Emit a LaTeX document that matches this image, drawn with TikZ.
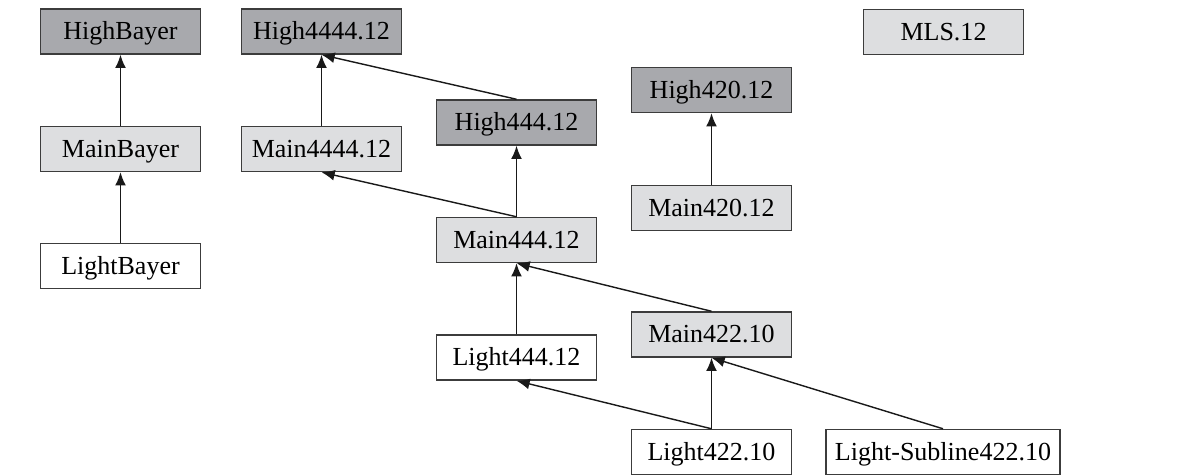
\documentclass[tikz,border=0pt]{standalone}
\usepackage{fontspec}
\setmainfont{Liberation Serif}
\usepackage{tikz}
\usepackage{xcolor}
\usetikzlibrary{arrows.meta, positioning}
\definecolor{cHigh}{RGB}{168,169,173}
\definecolor{cMain}{RGB}{221,222,224}
\definecolor{cEdge}{RGB}{60,60,60}
\tikzset{
	profile/.style={rectangle, draw=cEdge, line width=0.9pt, minimum width=4cm, minimum height=1.13cm, text centered, inner sep=2pt, text height=1.2em, text depth=0.02em, font=\fontsize{18.5}{22}\selectfont, fill=white},
	highbox/.style ={profile, fill=cHigh},
	mainbox/.style ={profile, fill=cMain},
	lightbox/.style={profile, fill=white},
	uparrow/.style ={-{Latex[length=3.3mm, width=2.7mm]}, line width=1pt, draw=black!90},
}

\begin{document}
\begin{tikzpicture}[x=0.025cm, y=-0.025cm]
	\useasboundingbox (0,0) rectangle (1184,474);
	% Bayer profiles
	\node[highbox]  (hbayer) at (120.5,31.5) {HighBayer};
	\node[mainbox]  (mbayer) at (120.5,149)  {MainBayer};
	\node[lightbox] (lbayer) at (120.5,266)  {LightBayer};
	% 4444 / 444 profiles
	\node[highbox]  (h4444) at (321.5,31.5)  {High4444.12};
	\node[mainbox]  (m4444) at (321.5,149)   {Main4444.12};
	\node[highbox]  (h444)  at (516.5,122.5) {High444.12};
	\node[mainbox]  (m444)  at (516.5,240)   {Main444.12};
	\node[lightbox] (l444)  at (516.5,357.5) {Light444.12};
	% 420 / 422 profiles
	\node[highbox]  (h420)  at (711.5,90)    {High420.12};
	\node[mainbox]  (m420)  at (711.5,208)   {Main420.12};
	\node[mainbox]  (m422)  at (711.5,334.5) {Main422.10};
	\node[lightbox] (l422)  at (711.5,452)   {Light422.10};
	\node[lightbox, minimum width=5.85cm] (lsub422) at (943,452) {Light-Subline422.10};
	\node[mainbox]  (mls)   at (943.5,32)    {MLS.12};

	\draw[uparrow] (mbayer.north) -- (hbayer.south);
	\draw[uparrow] (lbayer.north) -- (mbayer.south);
	\draw[uparrow] (m4444.north) -- (h4444.south);
	\draw[uparrow] (h444.north) -- (h4444.south);
	\draw[uparrow] (m444.north) -- (m4444.south);
	\draw[uparrow] (m444.north) -- (h444.south);
	\draw[uparrow] (l444.north) -- (m444.south);
	\draw[uparrow] (m422.north) -- (m444.south);
	\draw[uparrow] (m420.north) -- (h420.south);
	\draw[uparrow] (l422.north) -- (m422.south);
	\draw[uparrow] (l422.north) -- (l444.south);
	\draw[uparrow] (lsub422.north) -- (m422.south);
\end{tikzpicture}
\end{document}
